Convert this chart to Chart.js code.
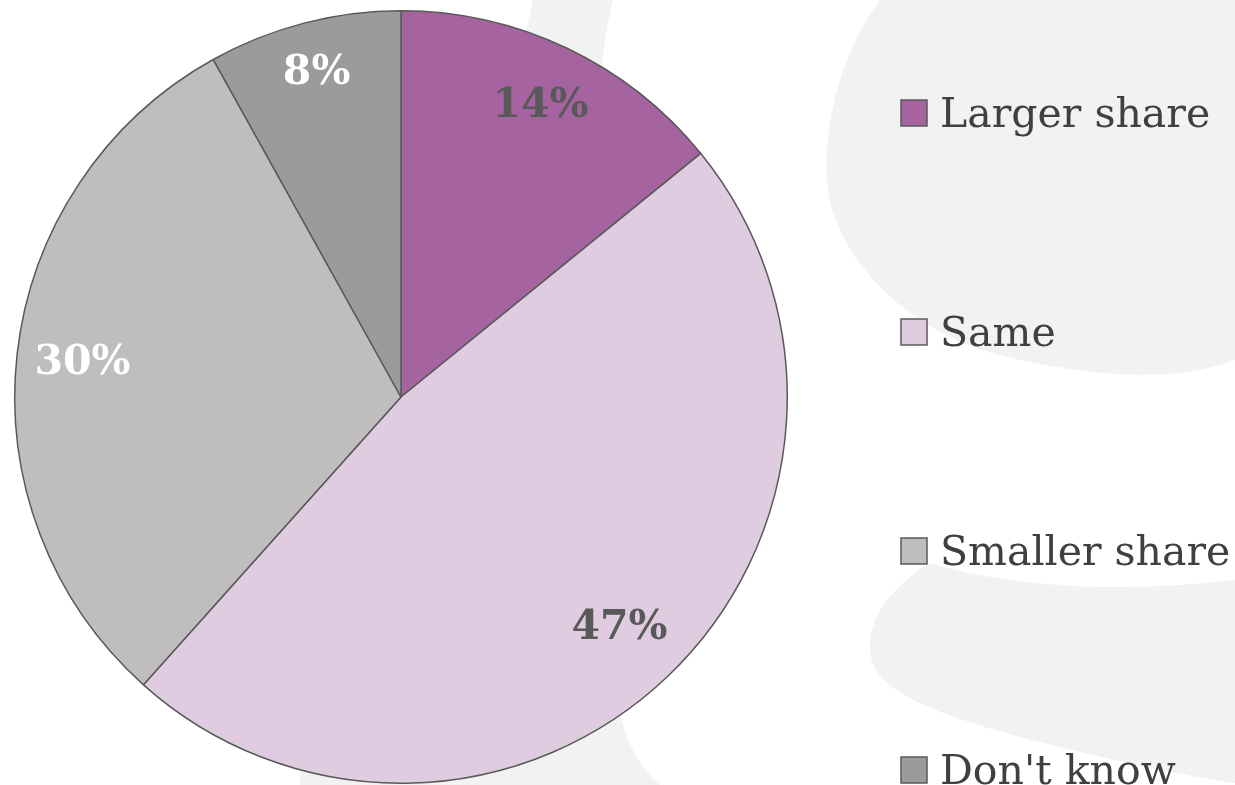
<!DOCTYPE html>
<html>
<head>
<meta charset="utf-8">
<script src="https://cdn.jsdelivr.net/npm/chart.js@4"></script>
<style>
  html, body { margin: 0; padding: 0; background: #ffffff; }
  #wrap { position: relative; width: 1235px; height: 785px; }
</style>
</head>
<body>
<div id="wrap"><canvas id="grafico"></canvas></div>
<script>
// Datos del gráfico
const categorias = ['Larger share', 'Same', 'Smaller share', "Don't know"];
const valores = [14, 47, 30, 8];
const colores = ['#A5649F', '#DFCCE0', '#BFBDBE', '#9B9B9B'];
const coloresEtiqueta = ['#595959', '#595959', '#FFFFFF', '#FFFFFF'];

const fuenteSerif = '"DejaVu Serif", "Liberation Serif", serif';

// Fondo decorativo (marca de agua gris claro)
const fondo = {
    id: 'fondo',
    beforeDraw(chart) {
        const ctx = chart.ctx;
        ctx.save();
        ctx.fillStyle = '#ffffff';
        ctx.fillRect(0, 0, chart.width, chart.height);
        ctx.fillStyle = '#F2F2F2';

        // bloque superior derecho
        ctx.beginPath();
        ctx.moveTo(880, 0);
        ctx.bezierCurveTo(835, 60, 822, 140, 828, 190);
        ctx.bezierCurveTo(835, 250, 900, 330, 1000, 355);
        ctx.bezierCurveTo(1080, 375, 1170, 385, 1235, 360);
        ctx.lineTo(1235, 0);
        ctx.closePath();
        ctx.fill();

        // bloque inferior derecho
        ctx.beginPath();
        ctx.moveTo(1235, 580);
        ctx.bezierCurveTo(1130, 592, 1020, 590, 930, 563);
        ctx.bezierCurveTo(895, 585, 868, 615, 870, 650);
        ctx.bezierCurveTo(872, 690, 930, 712, 1020, 737);
        ctx.bezierCurveTo(1100, 758, 1180, 775, 1235, 783);
        ctx.lineTo(1235, 785);
        ctx.closePath();
        ctx.fill();

        // franja detrás del pastel
        ctx.beginPath();
        ctx.moveTo(533, 0);
        ctx.lineTo(613, 0);
        ctx.bezierCurveTo(575, 150, 600, 550, 620, 712);
        ctx.quadraticCurveTo(630, 760, 660, 785);
        ctx.lineTo(300, 785);
        ctx.lineTo(300, 400);
        ctx.lineTo(520, 60);
        ctx.closePath();
        ctx.fill();
        ctx.restore();
    }
};

// Etiquetas de porcentaje dentro de cada porción
const distEtiqueta = [0.84, 0.82, 0.83, 0.87];
const etiquetas = {
    id: 'etiquetas',
    afterDatasetsDraw(chart) {
        const ctx = chart.ctx;
        const meta = chart.getDatasetMeta(0);
        ctx.save();
        ctx.font = 'bold 41px ' + fuenteSerif;
        ctx.textAlign = 'center';
        ctx.textBaseline = 'middle';
        meta.data.forEach((arc, i) => {
            const p = arc.getProps(['x', 'y', 'startAngle', 'endAngle', 'outerRadius'], true);
            const mid = (p.startAngle + p.endAngle) / 2;
            const r = p.outerRadius * distEtiqueta[i];
            ctx.fillStyle = coloresEtiqueta[i];
            ctx.fillText(valores[i] + '%', p.x + Math.cos(mid) * r, p.y + Math.sin(mid) * r + 2);
        });
        ctx.restore();
    }
};

// Leyenda a la derecha
const leyenda = {
    id: 'leyenda',
    afterDraw(chart) {
        const ctx = chart.ctx;
        ctx.save();
        ctx.font = '41px ' + fuenteSerif;
        ctx.textAlign = 'left';
        ctx.textBaseline = 'alphabetic';
        categorias.forEach((cat, i) => {
            const yc = 113 + i * 219;
            ctx.fillStyle = colores[i];
            ctx.fillRect(901, yc - 13, 26, 26);
            ctx.strokeStyle = '#595959';
            ctx.lineWidth = 1.5;
            ctx.strokeRect(901, yc - 13, 26, 26);
            ctx.fillStyle = '#404040';
            ctx.fillText(cat, 940, yc + 14);
        });
        ctx.restore();
    }
};

const ctx = document.getElementById('grafico').getContext('2d');
new Chart(ctx, {
    type: 'pie',
    data: {
        labels: categorias,
        datasets: [{
            data: valores,
            backgroundColor: colores,
            borderColor: '#595959',
            borderWidth: 1.5
        }]
    },
    options: {
        responsive: true,
        maintainAspectRatio: false,
        animation: false,
        layout: { padding: { left: 14, top: 10, right: 447, bottom: 1 } },
        plugins: {
            legend: { display: false },
            tooltip: { enabled: false }
        }
    },
    plugins: [fondo, etiquetas, leyenda]
});
</script>
</body>
</html>
